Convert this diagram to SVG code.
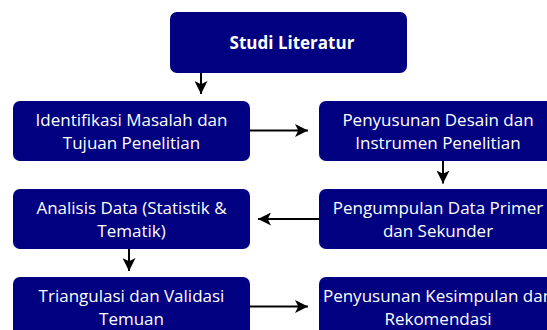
<svg xmlns="http://www.w3.org/2000/svg" width="547" height="330" viewBox="0 0 547 330">
<style>
.box{fill:#000080;}
.t{font-family:"Open Sans","Noto Sans",sans-serif;font-size:17px;fill:#ffffff;text-anchor:middle;}
.b{font-weight:bold;}
.c{stroke:#000;stroke-width:2;fill:none;marker-end:url(#ah);}
</style>
<defs>
<marker id="ah" viewBox="0 0 10 10" refX="10" refY="5" markerWidth="6.5" markerHeight="6.5" orient="auto" markerUnits="strokeWidth">
<path d="M0,0 L10,5 L0,10 L2.5,5 z" fill="#000"/>
</marker>
</defs>
<g id="connectors">
<line class="c" x1="201" y1="73" x2="201" y2="94"/>
<line class="c" x1="250" y1="130.5" x2="308" y2="130.5"/>
<line class="c" x1="443" y1="161" x2="443" y2="183.5"/>
<line class="c" x1="319" y1="219" x2="258" y2="219"/>
<line class="c" x1="129" y1="249" x2="129" y2="271"/>
<line class="c" x1="250" y1="306.5" x2="308" y2="306.5"/>
</g>
<g id="studi-literatur">
<rect class="box" x="170" y="12" width="237" height="61" rx="7"/>
<text class="t b" x="292" y="49">Studi Literatur</text>
</g>
<g id="identifikasi">
<rect class="box" x="13" y="101" width="237" height="60" rx="7"/>
<text class="t" x="131.5" y="126">Identifikasi Masalah dan</text>
<text class="t" x="131.5" y="149">Tujuan Penelitian</text>
</g>
<g id="desain">
<rect class="box" x="319" y="101" width="238" height="60" rx="7"/>
<text class="t" x="438" y="126">Penyusunan Desain dan</text>
<text class="t" x="438" y="149">Instrumen Penelitian</text>
</g>
<g id="pengumpulan">
<rect class="box" x="319" y="189" width="238" height="60" rx="7"/>
<text class="t" x="438" y="214">Pengumpulan Data Primer</text>
<text class="t" x="438" y="237">dan Sekunder</text>
</g>
<g id="analisis">
<rect class="box" x="13" y="189" width="237" height="60" rx="7"/>
<text class="t" x="131.5" y="214">Analisis Data (Statistik &amp;</text>
<text class="t" x="131.5" y="237">Tematik)</text>
</g>
<g id="triangulasi">
<rect class="box" x="13" y="277" width="237" height="60" rx="7"/>
<text class="t" x="131.5" y="302">Triangulasi dan Validasi</text>
<text class="t" x="131.5" y="325">Temuan</text>
</g>
<g id="kesimpulan">
<rect class="box" x="319" y="277" width="238" height="60" rx="7"/>
<text class="t" x="438" y="302">Penyusunan Kesimpulan dan</text>
<text class="t" x="438" y="325">Rekomendasi</text>
</g>
</svg>
